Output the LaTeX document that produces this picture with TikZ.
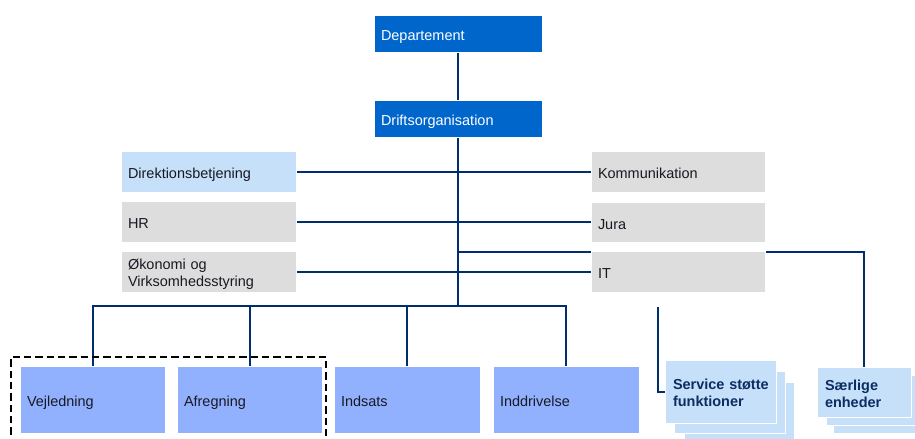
\documentclass[tikz,border=0pt]{standalone}
\usepackage{fontspec}
\setmainfont{Liberation Sans}
\usetikzlibrary{backgrounds}
\definecolor{deptblue}{RGB}{0,102,204}
\definecolor{lightblue}{RGB}{198,224,250}
\definecolor{greybox}{RGB}{221,221,221}
\definecolor{periwinkle}{RGB}{145,177,255}
\definecolor{navy}{RGB}{0,45,110}
\definecolor{darktext}{RGB}{25,25,35}
\definecolor{boldnavy}{RGB}{12,45,100}
\begin{document}
\begin{tikzpicture}[x=0.75pt,y=-0.75pt,
  orgbox/.style 2 args={draw=white, line width=0.6pt,
    minimum width={#1*0.75pt}, text width={(#1-14)*0.75pt},
    minimum height={#2*0.75pt}, inner xsep={7*0.75pt}, inner ysep=0pt,
    align=left, font=\fontsize{10.85pt}{12.75pt}\selectfont, text=darktext,
    text height=10.8pt, text depth=0pt},
  twoline/.style={text height=10.05pt, text depth=12.75pt},
  topbox/.style={orgbox={168}{37}, fill=deptblue, text=white},
  sidebox/.style={orgbox={175}{41}, fill=greybox},
  unitbox/.style={orgbox={#1}{67}, fill=periwinkle},
  stackbox/.style 2 args={orgbox={#1}{#2}, fill=lightblue, inner xsep={8*0.75pt}, text width={(#1-16)*0.75pt}},
  boldtext/.style={font=\bfseries\fontsize{10.85pt}{12.75pt}\selectfont, text=boldnavy},
  conn/.style={draw=navy, line width=1.5pt},
  frame/.style={draw=black, line width=0.8pt, dash pattern=on 5.5pt off 3pt}]
\useasboundingbox (0,0) rectangle (915,439);

% top
\node[topbox] (dep) at (458,33.5) {Departement};
\node[topbox] (drift) at (458,118.5) {Driftsorganisation};

% staff
\node[sidebox, fill=lightblue] (direk) at (208.5,171.5) {Direktionsbetjening};
\node[sidebox] (hr) at (208.5,221.5) {HR};
\node[sidebox, twoline] (oko) at (208.5,271.5) {Økonomi og\\Virksomhedsstyring};
\node[sidebox, orgbox={174}{41}] (komm) at (678,171.5) {Kommunikation};
\node[sidebox, orgbox={174}{40}] (jura) at (678,222) {Jura};
\node[sidebox, orgbox={174}{41}] (it) at (678,271.5) {IT};

% units
\node[unitbox=145] (vej) at (92.5,399.5) {Vejledning};
\node[unitbox=145] (afr) at (249.5,399.5) {Afregning};
\node[unitbox=146] (indsats) at (407,399.5) {Indsats};
\node[unitbox=146] (inddr) at (566,399.5) {Inddrivelse};

% service stack
\node[stackbox={110}{62}] (svc3) at (739,413) {};
\node[stackbox={111}{62}] (svc2) at (729.5,402) {};
\node[stackbox={111}{63}, boldtext, twoline] (svc) at (720.5,391.5) {\mbox{Service støtte}\\funktioner};

% saerlige stack
\node[stackbox={94}{50}] (sae3) at (880,408) {};
\node[stackbox={94}{50}] (sae2) at (873,400) {};
\node[stackbox={94}{50}, boldtext, twoline] (sae) at (864,392) {Særlige\\enheder};

% dashed group frame
\draw[frame] (11,446) -- (11,357) -- (326,357) -- (326,446);

\coordinate (bus) at (458,306);
\coordinate (itbranch) at (458,252);
\coordinate (svcstart) at (658,307);

\begin{scope}[on background layer]
\draw[conn] (dep) -- (drift);
\draw[conn] (drift.south) -- (bus);
\draw[conn] (direk) -- (komm);
\draw[conn] (hr.east) -- (hr.east -| jura.west);
\draw[conn] (oko) -- (it);
\draw[conn] (itbranch) -- (itbranch -| sae.north) -- (sae.north);
\draw[conn] (svcstart) |- (svc.west);
\draw[conn] (vej.north) -- (vej.north |- bus) -- (inddr.north |- bus) -- (inddr.north);
\draw[conn] (afr.north) -- (afr.north |- bus);
\draw[conn] (indsats.north) -- (indsats.north |- bus);
\end{scope}
\end{tikzpicture}
\end{document}
